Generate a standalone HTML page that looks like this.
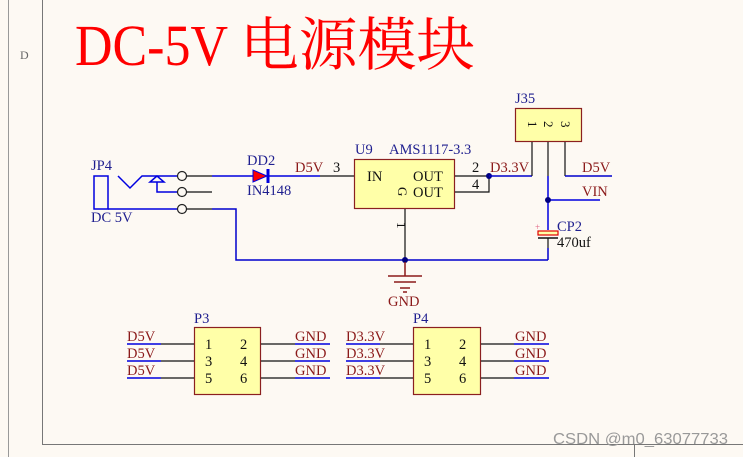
<!DOCTYPE html>
<html><head><meta charset="utf-8"><style>
html,body{margin:0;padding:0;background:#fdf9f3;}
svg{display:block;}
text{font-family:"Liberation Serif","Noto Serif CJK SC",serif;}
</style></head><body>
<svg width="743" height="457" viewBox="0 0 743 457" xmlns="http://www.w3.org/2000/svg">
<rect width="743" height="457" fill="#fdf9f3"/>
<line x1="8.5" y1="0" x2="8.5" y2="457" stroke="#999" stroke-width="1"/>
<line x1="42.5" y1="0" x2="42.5" y2="444" stroke="#777" stroke-width="1"/>
<line x1="42" y1="444.5" x2="743" y2="444.5" stroke="#777" stroke-width="1"/>
<line x1="634.5" y1="444" x2="634.5" y2="457" stroke="#777" stroke-width="1"/>
<text x="20" y="59" font-size="12" fill="#666">D</text>
<text x="75" y="65" font-size="58" fill="#ff0000" textLength="153" lengthAdjust="spacingAndGlyphs">DC-5V</text>
<text x="240" y="65" font-size="58" fill="#ff0000" textLength="235" lengthAdjust="spacingAndGlyphs">电源模块</text>

<g font-size="14.5">
<text x="91" y="170" fill="#1f1f8f">JP4</text>
<text x="91" y="222" fill="#1f1f8f">DC 5V</text>
</g>
<rect x="94" y="176" width="14" height="33" fill="none" stroke="#0000e0" stroke-width="1.5"/>
<line x1="108" y1="209" x2="178" y2="209" stroke="#0000e0" stroke-width="1.5"/>
<polyline points="118,176 130,188 142,176 178,176" fill="none" stroke="#0000e0" stroke-width="1.5"/>
<polygon points="157,176 150,182 164,182" fill="none" stroke="#0000e0" stroke-width="1.5"/>
<polyline points="157,182 157,192 178,192" fill="none" stroke="#0000e0" stroke-width="1.5"/>
<g fill="#fdf9f3" stroke="#222" stroke-width="1.2">
<circle cx="182" cy="176" r="4.5"/><circle cx="182" cy="192" r="4.5"/><circle cx="182" cy="209" r="4.5"/>
</g>
<g stroke="#111" stroke-width="1.2">
<line x1="186.5" y1="176" x2="212" y2="176"/><line x1="186.5" y1="192" x2="212" y2="192"/><line x1="186.5" y1="209" x2="212" y2="209"/>
</g>
<line x1="212" y1="176" x2="253" y2="176" stroke="#0000e0" stroke-width="1.5"/>
<polyline points="212,209 236,209 236,260 548,260" fill="none" stroke="#0000cc" stroke-width="1.5"/>
<polygon points="253,170 253,182 267,176" fill="#ff0000" stroke="#0000e0" stroke-width="1"/>
<line x1="268" y1="169" x2="268" y2="183" stroke="#0000e0" stroke-width="3"/>
<line x1="268" y1="176" x2="320" y2="176" stroke="#0000e0" stroke-width="1.5"/>
<line x1="320" y1="176" x2="355" y2="176" stroke="#111" stroke-width="1.2"/>
<g font-size="14.5">
<text x="247" y="165" fill="#1f1f8f">DD2</text>
<text x="247" y="195" fill="#1f1f8f">IN4148</text>
<text x="295" y="172" fill="#8b1a1a">D5V</text>
<text x="333" y="172" fill="#111">3</text>
<text x="355" y="154" fill="#1f1f8f">U9</text>
<text x="389" y="154" fill="#1f1f8f">AMS1117-3.3</text>
</g>
<rect x="354.5" y="159.5" width="100" height="49" fill="#ffffa8" stroke="#8b2020" stroke-width="1.2"/>
<g font-size="14.5" fill="#111">
<text x="367" y="181">IN</text>
<text x="413" y="181">OUT</text>
<text x="413" y="197">OUT</text>
<text x="472" y="172">2</text>
<text x="472" y="189">4</text>
</g>
<text x="0" y="0" font-size="13" fill="#111" transform="translate(398,187) rotate(90)">G</text>
<g stroke="#111" stroke-width="1.2">
<line x1="455" y1="176" x2="489" y2="176"/>
<polyline points="455,192 489,192 489,176" fill="none"/>
<line x1="405" y1="209" x2="405" y2="260"/>
</g>
<text x="0" y="0" font-size="13" fill="#111" transform="translate(397,222) rotate(90)">1</text>
<circle cx="489" cy="176" r="3" fill="#000080"/>
<line x1="489" y1="176" x2="532" y2="176" stroke="#0000cc" stroke-width="1.5"/>
<text x="490" y="172" font-size="14.5" fill="#8b1a1a">D3.3V</text>

<text x="515" y="103" font-size="14.5" fill="#1f1f8f">J35</text>
<rect x="515.5" y="108.5" width="66" height="33" fill="#ffffa8" stroke="#8b2020" stroke-width="1.2"/>
<text x="0" y="0" font-size="13" fill="#111" transform="translate(528,121) rotate(90)">1</text>
<text x="0" y="0" font-size="13" fill="#111" transform="translate(544,121) rotate(90)">2</text>
<text x="0" y="0" font-size="13" fill="#111" transform="translate(561,121) rotate(90)">3</text>
<g stroke="#111" stroke-width="1.2">
<line x1="532" y1="142" x2="532" y2="176"/>
<line x1="548" y1="142" x2="548" y2="176"/>
<line x1="565" y1="142" x2="565" y2="176"/>
</g>
<line x1="565" y1="176" x2="612" y2="176" stroke="#0000cc" stroke-width="1.5"/>
<text x="582" y="172" font-size="14.5" fill="#8b1a1a">D5V</text>
<line x1="548" y1="176" x2="548" y2="230" stroke="#0000e0" stroke-width="1.5"/>
<line x1="548" y1="200" x2="600" y2="200" stroke="#0000e0" stroke-width="1.5"/>
<circle cx="548" cy="200" r="3" fill="#000080"/>
<text x="582" y="196" font-size="14.5" fill="#8b1a1a">VIN</text>
<rect x="538" y="231" width="20" height="4" fill="#ffffa8" stroke="#e00000" stroke-width="1.2"/>
<line x1="538" y1="238" x2="558" y2="238" stroke="#111" stroke-width="1.5"/>
<line x1="548" y1="238" x2="548" y2="248" stroke="#111" stroke-width="1.2"/>
<text x="535" y="230" font-size="9" fill="#e06080">+</text>
<text x="557" y="231" font-size="14.5" fill="#1f1f8f">CP2</text>
<text x="557" y="247" font-size="14.5" fill="#111">470uf</text>
<line x1="548" y1="248" x2="548" y2="260" stroke="#0000cc" stroke-width="1.5"/>
<circle cx="405" cy="260" r="3" fill="#000080"/>
<g stroke="#8b1a1a" stroke-width="1.5">
<line x1="405" y1="262" x2="405" y2="276"/>
<line x1="388" y1="276" x2="422" y2="276"/>
<line x1="394" y1="282" x2="416" y2="282"/>
<line x1="400" y1="288" x2="410" y2="288"/>
<line x1="403" y1="292" x2="407" y2="292"/>
</g>
<text x="388" y="306" font-size="14.5" fill="#8b1a1a">GND</text>

<text x="194" y="323" font-size="14.5" fill="#1f1f8f">P3</text>
<rect x="194.5" y="327.5" width="66" height="67" fill="#ffffa8" stroke="#8b2020" stroke-width="1.2"/>
<text x="413" y="323" font-size="14.5" fill="#1f1f8f">P4</text>
<rect x="413.5" y="327.5" width="67" height="67" fill="#ffffa8" stroke="#8b2020" stroke-width="1.2"/>
<g font-size="14.5" fill="#111">
<text x="205" y="349">1</text><text x="240" y="349">2</text>
<text x="205" y="366">3</text><text x="240" y="366">4</text>
<text x="205" y="383">5</text><text x="240" y="383">6</text>
<text x="424" y="349">1</text><text x="459" y="349">2</text>
<text x="424" y="366">3</text><text x="459" y="366">4</text>
<text x="424" y="383">5</text><text x="459" y="383">6</text>
</g>
<g stroke="#111" stroke-width="1.2">
<line x1="161" y1="344" x2="194" y2="344"/><line x1="161" y1="361" x2="194" y2="361"/><line x1="161" y1="378" x2="194" y2="378"/>
<line x1="261" y1="344" x2="295" y2="344"/><line x1="261" y1="361" x2="295" y2="361"/><line x1="261" y1="378" x2="295" y2="378"/>
<line x1="380" y1="344" x2="413" y2="344"/><line x1="380" y1="361" x2="413" y2="361"/><line x1="380" y1="378" x2="413" y2="378"/>
<line x1="481" y1="344" x2="514" y2="344"/><line x1="481" y1="361" x2="514" y2="361"/><line x1="481" y1="378" x2="514" y2="378"/>
</g>
<g stroke="#0000e0" stroke-width="1.5">
<line x1="127" y1="344" x2="161" y2="344"/><line x1="127" y1="361" x2="161" y2="361"/><line x1="127" y1="378" x2="161" y2="378"/>
<line x1="295" y1="344" x2="330" y2="344"/><line x1="295" y1="361" x2="330" y2="361"/><line x1="295" y1="378" x2="330" y2="378"/>
<line x1="346" y1="344" x2="380" y2="344"/><line x1="346" y1="361" x2="380" y2="361"/><line x1="346" y1="378" x2="380" y2="378"/>
<line x1="514" y1="344" x2="549" y2="344"/><line x1="514" y1="361" x2="549" y2="361"/><line x1="514" y1="378" x2="549" y2="378"/>
</g>
<g font-size="14.5" fill="#8b1a1a">
<text x="127" y="341">D5V</text><text x="127" y="358">D5V</text><text x="127" y="375">D5V</text>
<text x="295" y="341">GND</text><text x="295" y="358">GND</text><text x="295" y="375">GND</text>
<text x="346" y="341">D3.3V</text><text x="346" y="358">D3.3V</text><text x="346" y="375">D3.3V</text>
<text x="515" y="341">GND</text><text x="515" y="358">GND</text><text x="515" y="375">GND</text>
</g>
<text x="553" y="444" font-size="16" fill="#999" textLength="175" lengthAdjust="spacingAndGlyphs" style="font-family:'Liberation Sans',sans-serif">CSDN @m0_63077733</text>
</svg>
</body></html>
